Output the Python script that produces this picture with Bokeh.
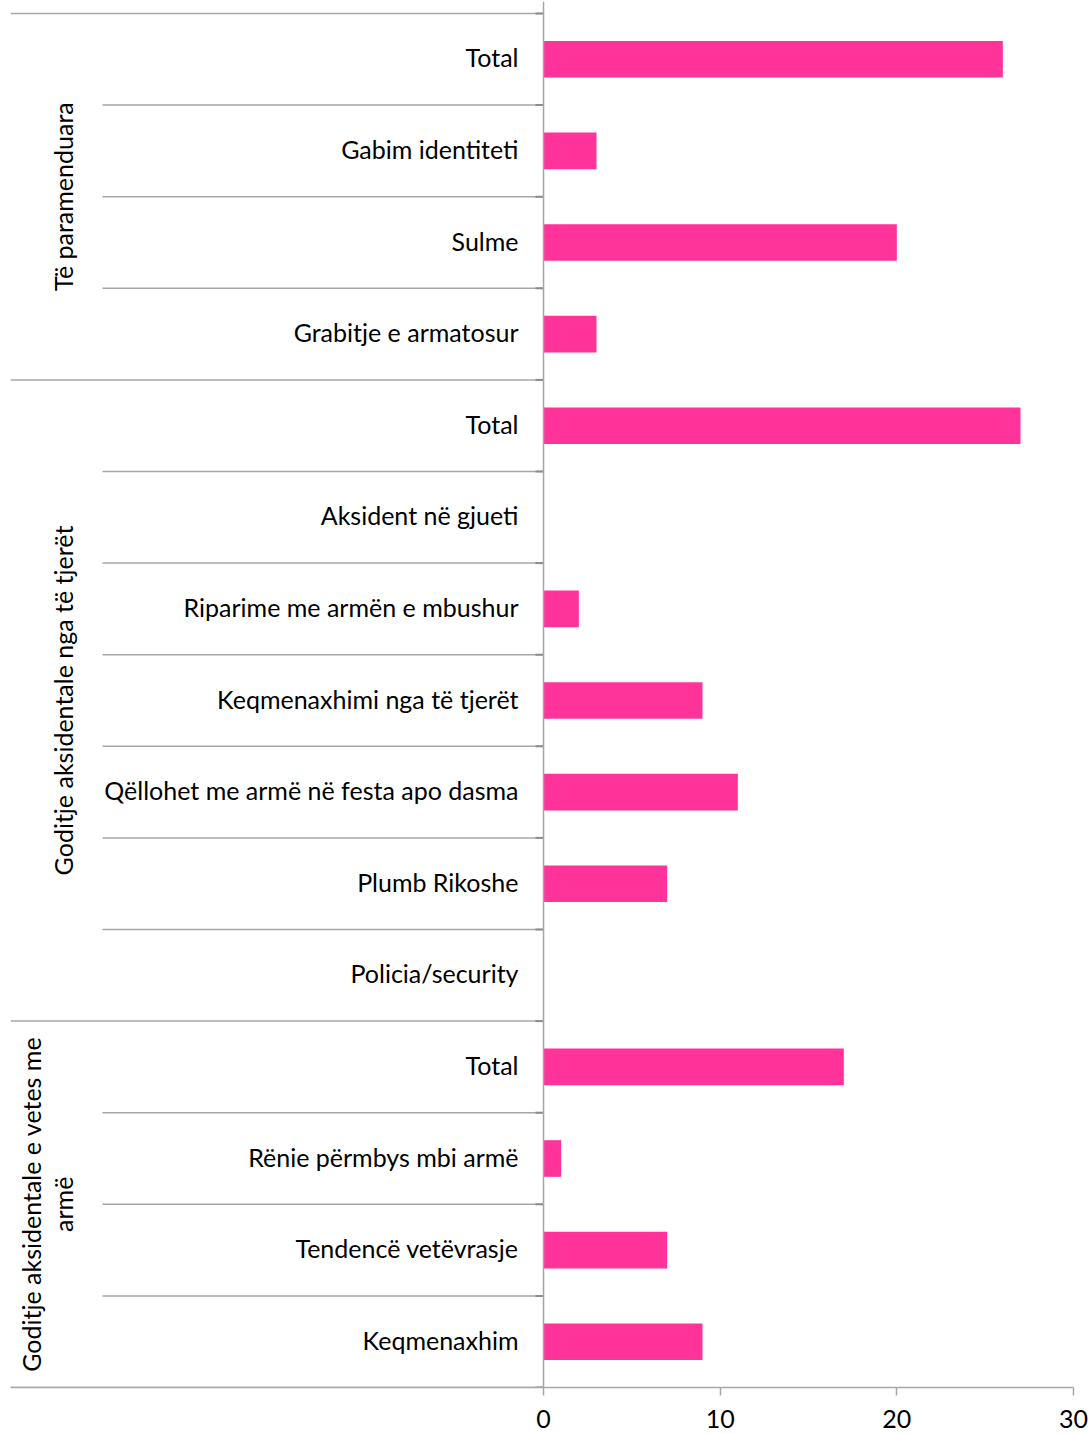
from bokeh.plotting import figure
from bokeh.models import Range1d, FixedTicker, ColumnDataSource, Span
from bokeh.core.properties import value
from bokeh.embed import file_html
from bokeh.resources import INLINE
import math

# ---- data -------------------------------------------------------------
groups = [
    "Të paramenduara",
    "Goditje aksidentale nga të tjerët",
    "Goditje aksidentale e vetes me armë",
]
group_label_lines = [
    ["Të paramenduara"],
    ["Goditje aksidentale nga të tjerët"],
    ["Goditje aksidentale e vetes me", "armë"],
]
group_sizes = [4, 7, 4]

categories = [
    "Total", "Gabim identiteti", "Sulme", "Grabitje e armatosur",
    "Total", "Aksident në gjueti", "Riparime me armën e mbushur",
    "Keqmenaxhimi nga të tjerët", "Qëllohet me armë në festa apo dasma",
    "Plumb Rikoshe", "Policia/security",
    "Total", "Rënie përmbys mbi armë", "Tendencë vetëvrasje", "Keqmenaxhim",
]
counts = [26, 3, 20, 3, 27, 0, 2, 9, 11, 7, 0, 17, 1, 7, 9]

x_ticks = [0, 10, 20, 30]

# ---- layout -----------------------------------------------------------
W, H = 1092, 1434
FONT = "Lato"
FONT_SIZE = "25px"
PINK = "#FF3399"
GRID = "#A6A6A6"

left_px, zero_px, right_px = 10, 543, 1073
top_px, bottom_px = 1, 1387
cat_top_px = 13

px_per_unit_x = (right_px - zero_px) / 30.0
x_lo = -(zero_px - left_px) / px_per_unit_x

n = len(categories)
px_per_cat = (bottom_px - cat_top_px) / n
y_top = -(cat_top_px - top_px) / px_per_cat


def px_to_x(px):
    return (px - zero_px) / px_per_unit_x


p = figure(
    width=W, height=H,
    x_range=Range1d(x_lo, 30),
    y_range=Range1d(n, y_top),
    output_backend="svg", toolbar_location=None,
    min_border_left=left_px, min_border_right=W - right_px,
    min_border_top=top_px, min_border_bottom=H - bottom_px,
)
p.outline_line_color = None
p.grid.visible = False
p.yaxis.visible = False
p.background_fill_color = "white"

# x axis
ax = p.xaxis[0]
ax.ticker = FixedTicker(ticks=x_ticks)
ax.axis_line_color = GRID
ax.axis_line_width = 1.5
ax.major_tick_line_color = GRID
ax.major_tick_line_width = 1.5
ax.major_tick_in = 0
ax.major_tick_out = 8
ax.minor_tick_line_color = None
ax.major_label_text_font = FONT
ax.major_label_text_font_size = FONT_SIZE
ax.major_label_text_color = "#000000"
ax.major_label_standoff = 14

# bars
centers = [i + 0.5 for i in range(n)]
bars = ColumnDataSource(dict(y=centers, right=counts, cat=categories))
p.hbar(y="y", left=0, right="right", height=0.4, source=bars,
       fill_color=PINK, line_color=None)

# vertical value axis line at zero
p.add_layout(Span(location=0, dimension="height", line_color=GRID,
                  line_width=1.5))

# category labels
p.text(x=px_to_x(zero_px - 25), y="y", text="cat", source=bars,
       text_font=value(FONT), text_font_size=FONT_SIZE, text_color="#000000",
       text_align="right", text_baseline="middle", y_offset=-2)

# separators: full width at group boundaries, indented inside groups
bounds = [0]
for s in group_sizes:
    bounds.append(bounds[-1] + s)
group_edges = set(bounds)
sep_y, sep_x0 = [], []
for k in range(n + 1):
    sep_y.append(k)
    sep_x0.append(px_to_x(left_px) if k in group_edges else px_to_x(102))
p.segment(x0=sep_x0, y0=sep_y, x1=[0] * len(sep_y), y1=sep_y,
          line_color=GRID, line_width=1.5)
# short tick marks on the category axis
p.segment(x0=[px_to_x(zero_px - 8)] * len(sep_y), y0=sep_y,
          x1=[0] * len(sep_y), y1=sep_y, line_color="#8C8C8C", line_width=2)

# rotated group labels
line_gap_px = 32
for gi, lines in enumerate(group_label_lines):
    yc = (bounds[gi] + bounds[gi + 1]) / 2.0
    m = len(lines)
    for li, txt in enumerate(lines):
        xc_px = 62 - (m - 1 - li) * line_gap_px
        p.text(x=[px_to_x(xc_px)], y=[yc], text=[txt], angle=math.pi / 2,
               text_font=value(FONT), text_font_size=FONT_SIZE,
               text_color="#000000", text_align="center",
               text_baseline="middle")

open("out.html", "w").write(file_html(p, INLINE))
